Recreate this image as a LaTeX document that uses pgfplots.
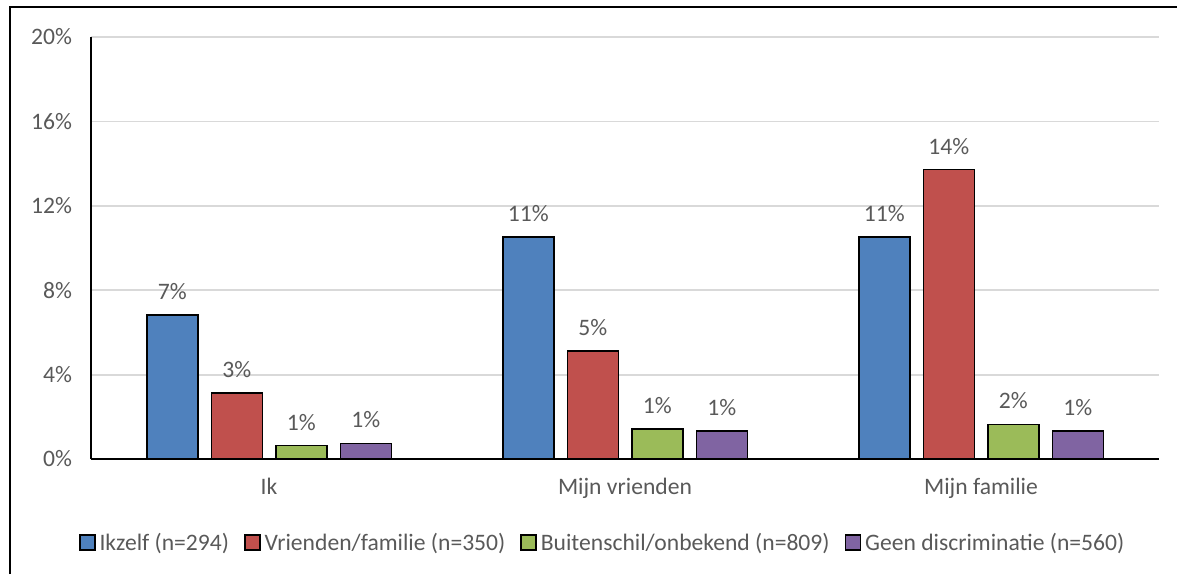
\documentclass[border=0pt]{standalone}
\usepackage{pgfplots}
\pgfplotsset{compat=1.18}
\usepackage{fontspec}
\setmainfont{Carlito}
\definecolor{cblue}{HTML}{4F81BD}
\definecolor{cred}{HTML}{C0504D}
\definecolor{cgreen}{HTML}{9BBB59}
\definecolor{cpurple}{HTML}{8064A2}
\definecolor{txt}{HTML}{595959}
\definecolor{gridgray}{HTML}{D9D9D9}
\begin{document}
\begin{tikzpicture}
\useasboundingbox (0,0) rectangle (588.5pt,287pt);
\draw[black, line width=1pt] (5pt,0) -- (5pt,283.5pt) -- (588.5pt,283.5pt);
\begin{axis}[
  at={(45.5pt,57.5pt)}, anchor=south west,
  scale only axis, width=534pt, height=211pt,
  ybar=6.75pt, bar width=25.5pt,
  xmin=-0.5, xmax=2.5, ymin=0, ymax=20,
  xtick={0,1,2}, xticklabels={Ik, Mijn vrienden, Mijn familie},
  ytick={0,4,8,12,16,20},
  yticklabel={\pgfmathprintnumber{\tick}\%},
  /pgf/number format/assume math mode=true,
  axis x line*=bottom, axis y line*=left,
  axis line style={black, line width=0.9pt},
  x axis line style={-}, y axis line style={-},
  major tick length=0pt,
  xmajorgrids=false, ymajorgrids=true, grid style={gridgray, line width=0.9pt},
  tick label style={font=\fontsize{11.8}{13}\selectfont, text=txt},
  xticklabel style={yshift=-6pt},
  yticklabel style={xshift=-6pt},
  nodes near coords={\pgfmathprintnumber[fixed,precision=0]{\pgfplotspointmeta}\%},
  nodes near coords style={font=\fontsize{11.8}{13}\selectfont, text=txt, yshift=4pt},
  every axis plot/.append style={draw=black, line width=0.75pt},
  legend style={at={(0.48,-0.199)}, anchor=center, draw=none, fill=none,
    legend columns=-1, font=\fontsize{11.8}{13}\selectfont, text=txt,
    /tikz/every even column/.append style={column sep=5.5pt}},
  legend image code/.code={\draw[#1, line width=0.75pt] (0pt,-3.5pt) rectangle (7.5pt,4pt);},
]
\addplot[fill=cblue] coordinates {(0,6.82) (1,10.52) (2,10.52)};
\addplot[fill=cred] coordinates {(0,3.13) (1,5.12) (2,13.71)};
\addplot[fill=cgreen] coordinates {(0,0.63) (1,1.42) (2,1.63)};
\addplot[fill=cpurple] coordinates {(0,0.73) (1,1.33) (2,1.33)};
\legend{Ikzelf (n=294), Vrienden/familie (n=350), Buitenschil/onbekend (n=809), Geen discriminatie (n=560)}
\end{axis}
\end{tikzpicture}
\end{document}
